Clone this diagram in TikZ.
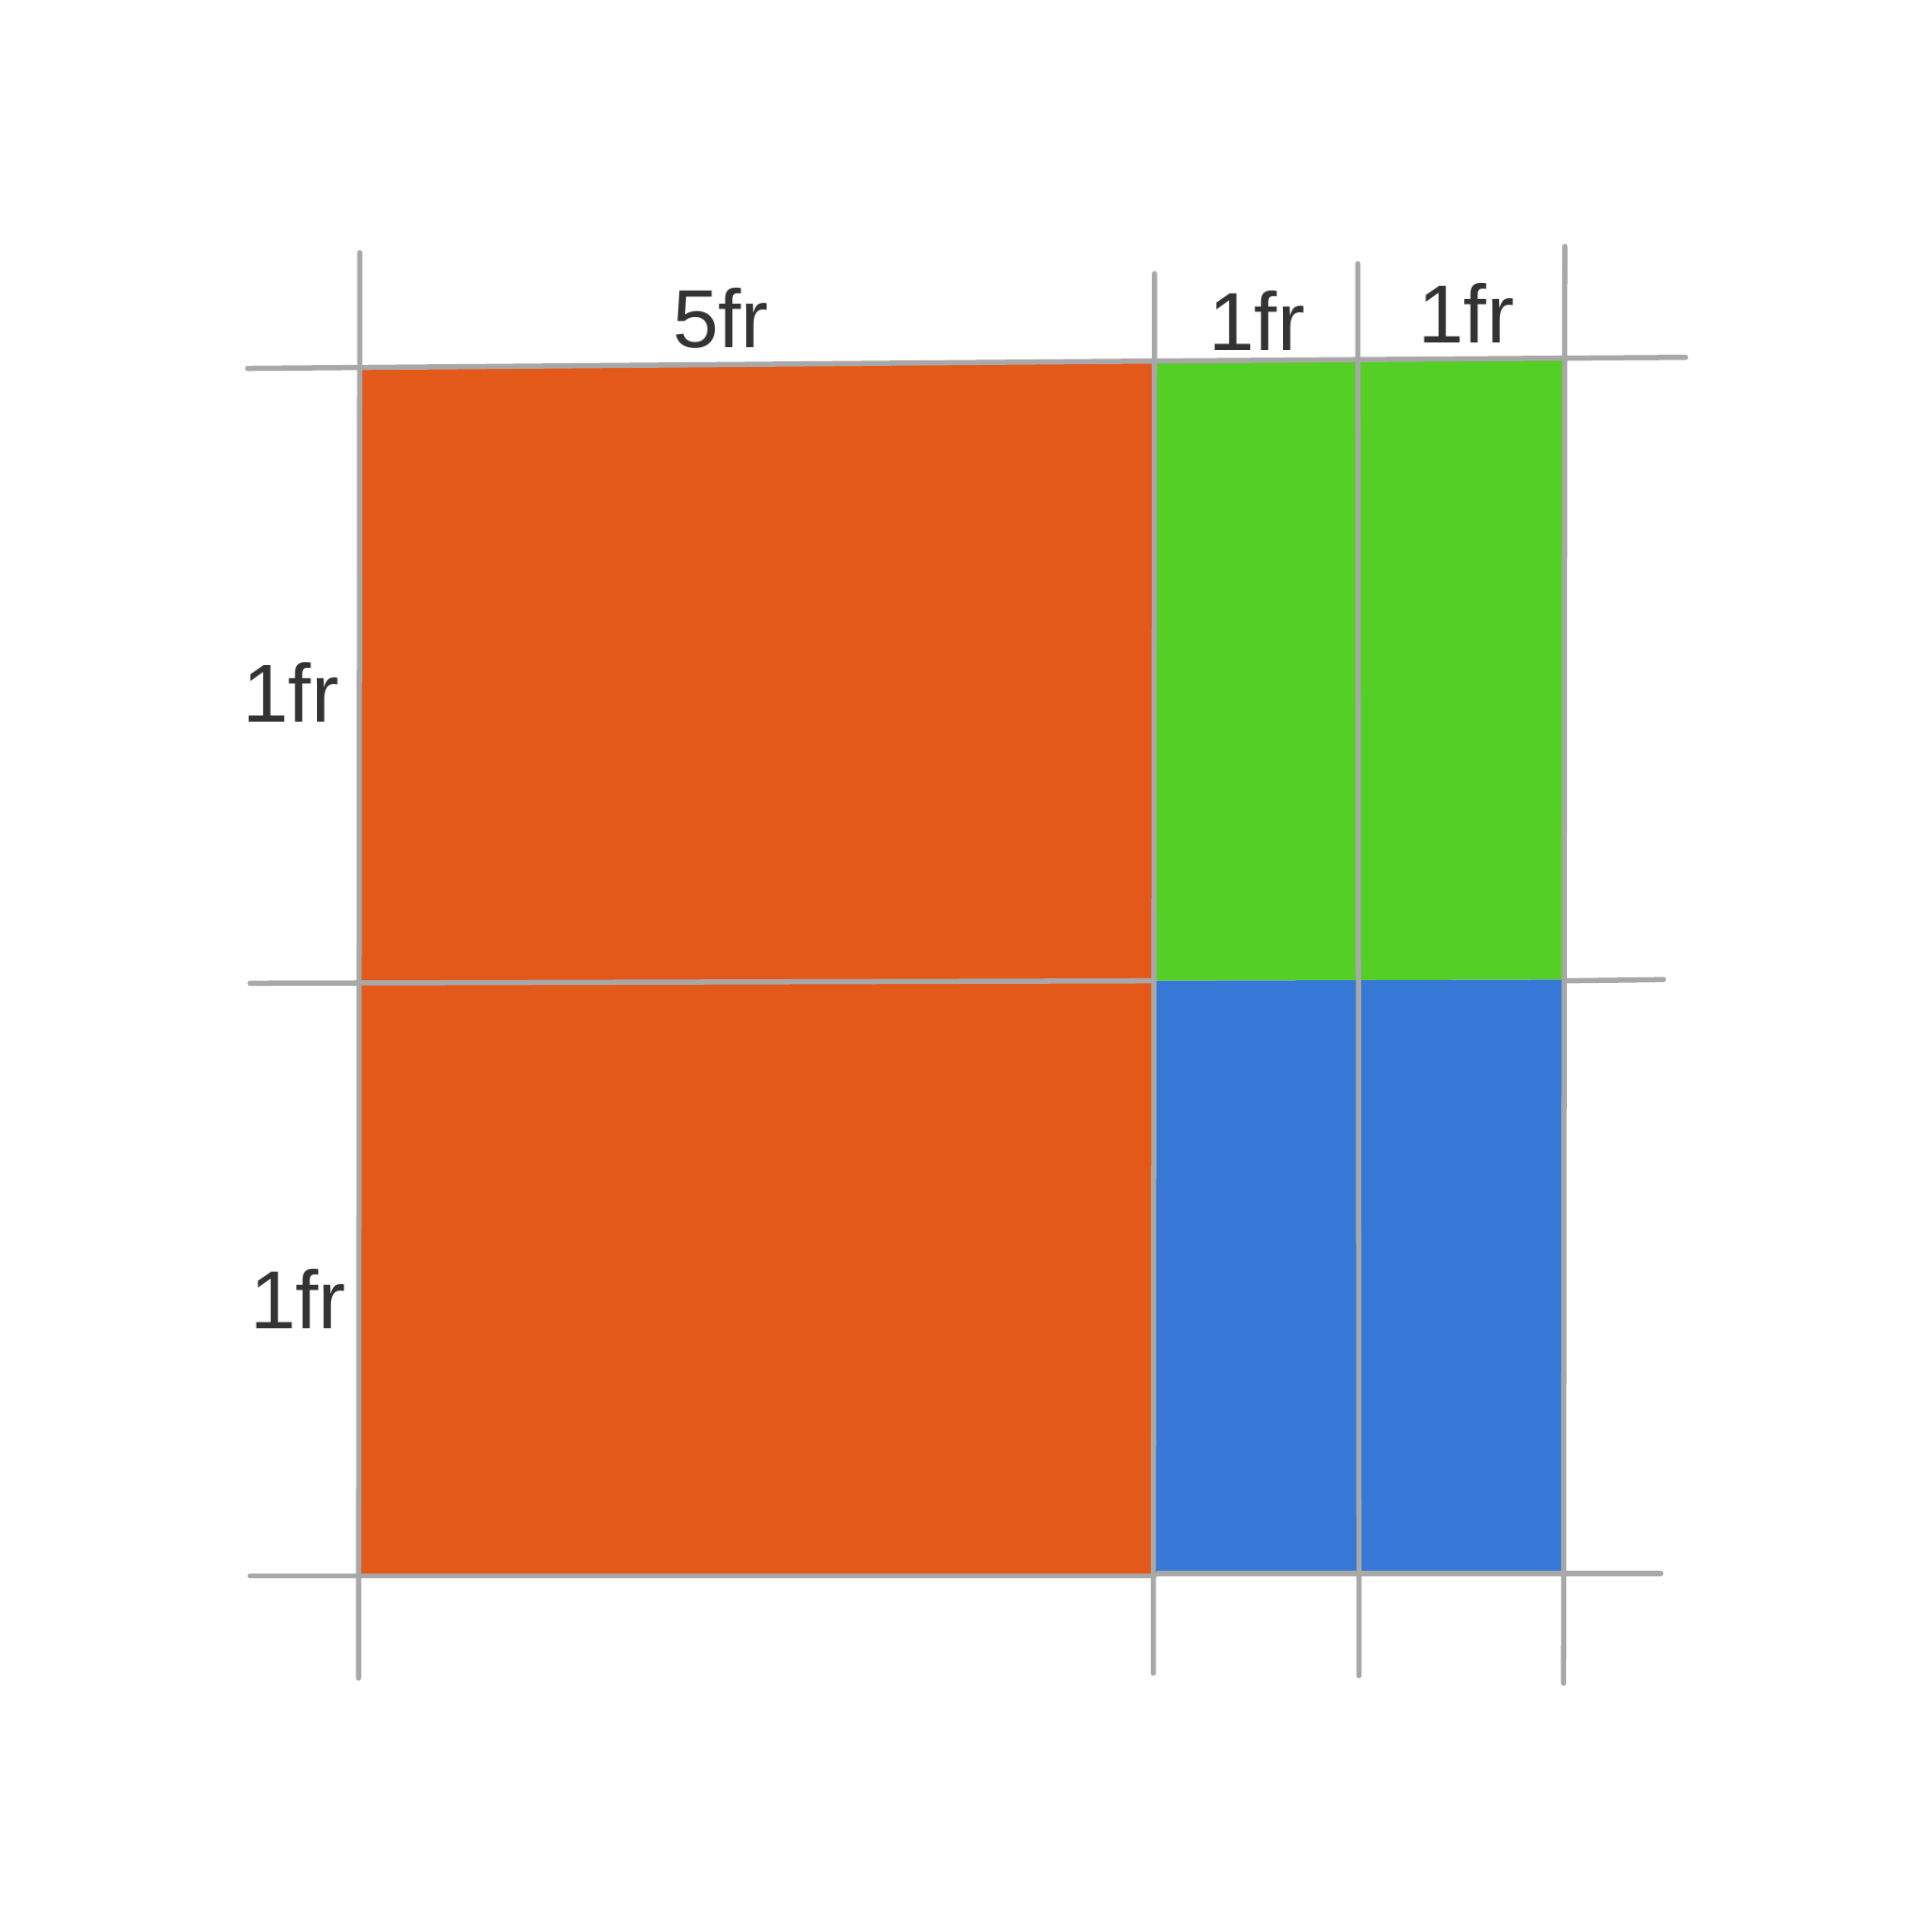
\documentclass[tikz,border=0pt]{standalone}
\usepackage{fontspec}
\setmainfont{Liberation Sans}
\definecolor{cOrange}{HTML}{E2591A}
\definecolor{cGreen}{HTML}{54CF25}
\definecolor{cBlue}{HTML}{3578D6}
\definecolor{cGrid}{HTML}{A8A8A8}
\definecolor{cText}{HTML}{333333}
\tikzset{
  gridline/.style={draw=cGrid, line width=1.2pt, line cap=round},
  lbl/.style={text=cText, font=\fontsize{19}{23}\selectfont, inner sep=0pt},
}
\begin{document}
\begin{tikzpicture}[x=0.01cm,y=-0.01cm]
\useasboundingbox[fill=white] (0,0) rectangle (1568,1568);
% coloured areas
\fill[cOrange] (290,297) -- (937,292) -- (937,1279) -- (291,1279) -- cycle;
\fill[cGreen] (937,292) -- (1270,291) -- (1270,795) -- (937,796) -- cycle;
\fill[cBlue] (937,796) -- (1270,795) -- (1270,1278) -- (938,1279) -- cycle;
% vertical grid lines
\draw[gridline] (292,205) -- (291,1362);
\draw[gridline] (937,222) -- (936,1358);
\draw[gridline] (1102,214) -- (1103,1360);
\draw[gridline] (1270,200) -- (1269,1366);
% horizontal grid lines
\draw[gridline] (201,299) -- (937,293) -- (1368,290);
\draw[gridline] (203,798) -- (934,796);
\draw[gridline] (1270,796) -- (1350,795);
\draw[gridline] (203,1279) -- (937,1279);
\draw[gridline] (940,1277) -- (1348,1277);
% labels
\node[lbl] (c1) at (585,258) {5fr};
\node[lbl] (c2) at (1020,260) {1fr};
\node[lbl] (c3) at (1190,254) {1fr};
\node[lbl] (r1) at (236,562) {1fr};
\node[lbl] (r2) at (242,1054) {1fr};
\end{tikzpicture}
\end{document}
